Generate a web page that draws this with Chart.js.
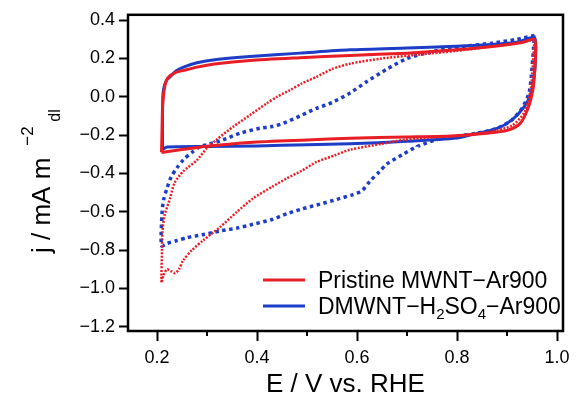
<!DOCTYPE html>
<html>
<head>
<meta charset="utf-8">
<script src="https://cdn.jsdelivr.net/npm/chart.js@4.4.1/dist/chart.umd.min.js"></script>
<style>
    html, body { margin: 0; padding: 0; background: #fff; }
</style>
</head>
<body>
<canvas id="cvChart" width="577" height="402"></canvas>
<script>
// Potential (V vs. RHE) and current density for each sweep
const pristineCvE = [0.209, 0.210, 0.211, 0.213, 0.216, 0.219, 0.226, 0.238, 0.253, 0.28, 0.319, 0.386, 0.486, 0.586, 0.70, 0.80, 0.88, 0.93, 0.955,
    0.957, 0.955, 0.952, 0.942, 0.926, 0.90, 0.86, 0.80, 0.70, 0.586, 0.50, 0.386, 0.30, 0.25, 0.209];
const pristineCvJ = [-0.29, -0.18, -0.06, 0.01, 0.06, 0.086, 0.11, 0.128, 0.138, 0.155, 0.173, 0.19, 0.204, 0.216, 0.228, 0.245, 0.265, 0.283, 0.30,
    0.22, 0.12, 0.04, -0.06, -0.14, -0.175, -0.19, -0.203, -0.21, -0.216, -0.225, -0.238, -0.258, -0.275, -0.29];

const dmwntCvE = [0.211, 0.211, 0.212, 0.215, 0.22, 0.226, 0.238, 0.253, 0.28, 0.319, 0.386, 0.486, 0.586, 0.70, 0.76, 0.85, 0.92, 0.955,
    0.957, 0.954, 0.948, 0.935, 0.91, 0.88, 0.83, 0.80, 0.70, 0.586, 0.50, 0.40, 0.30, 0.22, 0.211];
const dmwntCvJ = [-0.276, -0.10, 0.017, 0.06, 0.09, 0.104, 0.135, 0.155, 0.178, 0.195, 0.211, 0.228, 0.245, 0.255, 0.26, 0.27, 0.285, 0.31,
    0.20, 0.10, 0.02, -0.05, -0.12, -0.165, -0.197, -0.215, -0.232, -0.245, -0.25, -0.256, -0.259, -0.262, -0.276];

const pristineOrrE = [0.955, 0.92, 0.86, 0.80, 0.73, 0.65, 0.586, 0.55, 0.519, 0.49, 0.466, 0.44, 0.419, 0.386, 0.353, 0.319, 0.299, 0.28, 0.252,
    0.235, 0.226, 0.215, 0.211, 0.210, 0.209, 0.213, 0.22, 0.228, 0.236, 0.244, 0.252, 0.27, 0.292, 0.326, 0.36, 0.392, 0.43, 0.46, 0.49,
    0.519, 0.556, 0.586, 0.65, 0.70, 0.75, 0.80, 0.87, 0.91, 0.935, 0.948, 0.955];
const pristineOrrJ = [0.30, 0.28, 0.26, 0.24, 0.222, 0.20, 0.173, 0.145, 0.104, 0.07, 0.035, 0.0, -0.035, -0.095, -0.155, -0.224, -0.27, -0.33, -0.39,
    -0.45, -0.53, -0.62, -0.70, -0.80, -0.97, -0.93, -0.90, -0.91, -0.92, -0.90, -0.855, -0.80, -0.75, -0.68, -0.60, -0.53, -0.47, -0.425, -0.385,
    -0.34, -0.305, -0.276, -0.245, -0.222, -0.212, -0.203, -0.18, -0.15, -0.08, 0.05, 0.30];

const dmwntOrrE = [0.955, 0.92, 0.87, 0.82, 0.78, 0.74, 0.70, 0.66, 0.62, 0.586, 0.55, 0.519, 0.486, 0.453, 0.43, 0.406, 0.366, 0.333, 0.30,
    0.286, 0.27, 0.253, 0.24, 0.228, 0.22, 0.213, 0.21, 0.209, 0.22, 0.24, 0.26, 0.29, 0.326, 0.36, 0.392, 0.43, 0.46, 0.49, 0.526, 0.56,
    0.592, 0.61, 0.626, 0.645, 0.66, 0.692, 0.72, 0.76, 0.80, 0.84, 0.88, 0.91, 0.93, 0.945, 0.955];
const dmwntOrrJ = [0.32, 0.30, 0.28, 0.265, 0.25, 0.23, 0.20, 0.145, 0.08, 0.02, -0.03, -0.06, -0.10, -0.138, -0.155, -0.164, -0.19, -0.224, -0.25,
    -0.259, -0.29, -0.328, -0.37, -0.42, -0.477, -0.54, -0.61, -0.777, -0.765, -0.75, -0.735, -0.72, -0.70, -0.685, -0.665, -0.64, -0.61, -0.585, -0.56, -0.535,
    -0.51, -0.49, -0.44, -0.39, -0.35, -0.30, -0.26, -0.223, -0.205, -0.19, -0.165, -0.12, -0.06, 0.03, 0.32];

const minorTicksE = [0.3, 0.5, 0.7, 0.9];

const RED = "#e81e26";
const BLUE = "#1d3dc6";
const FONT = "'Liberation Sans', Arial, sans-serif";

// legend entries, pieces flagged 1 are drawn as subscripts
const legendEntries = [
    { color: RED, parts: [["Pristine MWNT\u2212Ar900", 0]] },
    { color: BLUE, parts: [["DMWNT\u2212H", 0], ["2", 1], ["SO", 0], ["4", 1], ["\u2212Ar900", 0]] },
];

function toPoints(es, js) {
    return es.map((e, i) => ({ x: e, y: js[i] }));
}

function fmtTick(v) {
    return v.toFixed(1).replace("-", "\u2212");
}

const decorations = {
    id: "decorations",
    afterDraw(chart) {
        const ctx = chart.ctx;
        const a = chart.chartArea;
        const xs = chart.scales.x;
        ctx.save();

        // frame
        ctx.strokeStyle = "#000";
        ctx.lineWidth = 2.5;
        ctx.strokeRect(a.left, a.top, a.right - a.left, a.bottom - a.top);

        // short minor ticks on the potential axis
        ctx.lineWidth = 2;
        ctx.beginPath();
        minorTicksE.forEach(function (v) {
            const px = Math.round(xs.getPixelForValue(v));
            ctx.moveTo(px, a.bottom);
            ctx.lineTo(px, a.bottom + 5);
        });
        ctx.stroke();

        // y title: j / mA m^-2 _dl
        ctx.fillStyle = "#000";
        ctx.translate(50, 253);
        ctx.rotate(-Math.PI / 2);
        ctx.textBaseline = "alphabetic";
        ctx.textAlign = "left";
        ctx.font = "26px " + FONT;
        const main = "j / mA m";
        ctx.fillText(main, 0, 0);
        const w = ctx.measureText(main).width;
        ctx.font = "17px " + FONT;
        ctx.fillText("\u22122", w + 12, -17);
        ctx.font = "16px " + FONT;
        ctx.fillText("dl", w + 36, 10);
        ctx.setTransform(1, 0, 0, 1, 0, 0);

        // legend
        let ly = 280;
        legendEntries.forEach(function (entry) {
            ctx.strokeStyle = entry.color;
            ctx.lineWidth = 3;
            ctx.beginPath();
            ctx.moveTo(263, ly);
            ctx.lineTo(305, ly);
            ctx.stroke();
            let tx = 318;
            ctx.textBaseline = "alphabetic";
            entry.parts.forEach(function (p) {
                if (p[1]) {
                    ctx.font = "15px " + FONT;
                    ctx.fillText(p[0], tx, ly + 13);
                } else {
                    ctx.font = "23px " + FONT;
                    ctx.fillText(p[0], tx, ly + 8);
                }
                tx += ctx.measureText(p[0]).width;
            });
            ly += 26;
        });
        ctx.restore();
    },
};

new Chart(document.getElementById("cvChart"), {
    type: "scatter",
    data: {
        datasets: [
            {
                label: "Pristine MWNT-Ar900",
                data: toPoints(pristineCvE, pristineCvJ),
                borderColor: RED,
                borderWidth: 3,
            },
            {
                label: "Pristine MWNT-Ar900 O2",
                data: toPoints(pristineOrrE, pristineOrrJ),
                borderColor: RED,
                borderWidth: 2.5,
                borderDash: [2, 1.5],
            },
            {
                label: "DMWNT-H2SO4-Ar900",
                data: toPoints(dmwntCvE, dmwntCvJ),
                borderColor: BLUE,
                borderWidth: 3,
            },
            {
                label: "DMWNT-H2SO4-Ar900 O2",
                data: toPoints(dmwntOrrE, dmwntOrrJ),
                borderColor: BLUE,
                borderWidth: 3.5,
                borderDash: [3.5, 3.5],
            },
        ],
    },
    options: {
        responsive: false,
        animation: false,
        showLine: true,
        elements: {
            point: { radius: 0 },
            line: { tension: 0.25, fill: false },
        },
        layout: {
            padding: { top: 13, right: 14, left: 0, bottom: 0 },
        },
        plugins: {
            legend: { display: false },
            tooltip: { enabled: false },
        },
        scales: {
            x: {
                type: "linear",
                min: 0.142,
                max: 1.012,
                afterFit: function (scale) {
                    scale.height = 71;
                },
                border: { display: false },
                grid: {
                    drawOnChartArea: false,
                    tickLength: 10,
                    tickWidth: 2,
                    tickColor: "#000",
                },
                ticks: {
                    stepSize: 0.2,
                    includeBounds: false,
                    maxRotation: 0,
                    padding: 6,
                    color: "#000",
                    font: { family: FONT, size: 18 },
                    callback: fmtTick,
                },
                title: {
                    display: true,
                    text: "E / V vs. RHE",
                    color: "#000",
                    font: { family: FONT, size: 26 },
                    padding: { top: 0, bottom: 2 },
                },
            },
            y: {
                min: -1.222,
                max: 0.428,
                afterFit: function (scale) {
                    scale.width = 128;
                },
                border: { display: false },
                grid: {
                    drawOnChartArea: false,
                    tickLength: 9,
                    tickWidth: 2,
                    tickColor: "#000",
                },
                ticks: {
                    stepSize: 0.2,
                    includeBounds: false,
                    padding: 4,
                    color: "#000",
                    font: { family: FONT, size: 18 },
                    callback: fmtTick,
                },
            },
        },
    },
    plugins: [decorations],
});
</script>
</body>
</html>
